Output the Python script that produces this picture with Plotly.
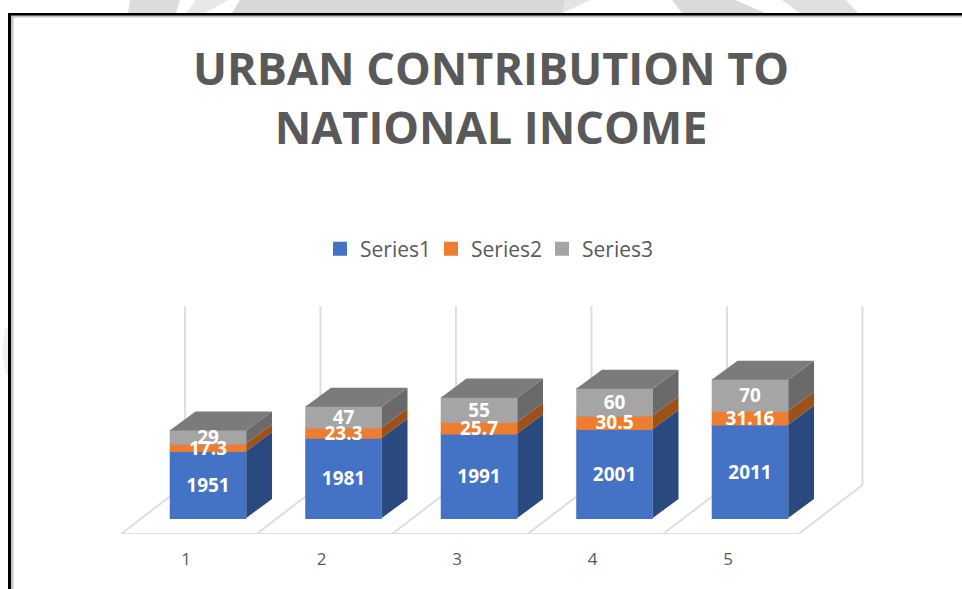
import plotly.graph_objects as go

# ---- data ----
categories = [1, 2, 3, 4, 5]
series1 = [1951, 1981, 1991, 2001, 2011]
series2 = [17.3, 23.3, 25.7, 30.5, 31.16]
series3 = [29, 47, 55, 60, 70]
series_names = ["Series1", "Series2", "Series3"]
title_text = "URBAN CONTRIBUTION TO<br>NATIONAL INCOME"

# ---- styling / projection of the 3-D look ----
W, H = 962, 589
FLOOR_PX = 534
AXIS_BASE = 1800
UNIT_X = 135.5          # px per category
UNIT_Y = 0.443          # px per value unit
BASE_PX = 518
X1_PX = 208
BAR_W = 0.55
DX, DY = 0.19, 43       # bar depth, in axis units
FLOOR_DX, FLOOR_DY = 0.472, 110.6
GRID_TOP = 2278
LABEL_DROP = 2.5 / UNIT_Y
FRONT = ["#4472c4", "#ed7d31", "#a5a5a5"]
SIDE = ["#2a4a7f", "#9c5119", "#6a6a6a"]
TOP = "#7b7b7b"
GRID = "#dedede"
TEXT = "#595959"
FONT = "Open Sans"

x_min = 1 - X1_PX / UNIT_X
x_max = x_min + W / UNIT_X
y_min = AXIS_BASE - (FLOOR_PX - BASE_PX) / UNIT_Y
y_max = AXIS_BASE + BASE_PX / UNIT_Y

s1_h = [v - AXIS_BASE for v in series1]
top1 = list(series1)
top2 = [a + b for a, b in zip(top1, series2)]
top3 = [a + b for a, b in zip(top2, series3)]
bottoms = [[AXIS_BASE] * 5, top1, top2]
heights = [s1_h, series2, series3]
labels = [series1, series2, series3]
tops = [top1, top2, top3]

fig = go.Figure()
for i in range(3):
    fig.add_trace(go.Bar(
        x=categories, y=heights[i], base=bottoms[i], width=BAR_W,
        name=series_names[i], marker=dict(color=FRONT[i], line=dict(width=2, color=FRONT[i])),
        hoverinfo="skip", cliponaxis=False,
    ))

half = BAR_W / 2 + 1 / UNIT_X
# right-hand faces of each stack segment
for i in range(3):
    xs, ys = [], []
    for c, b, t in zip(categories, bottoms[i], tops[i]):
        r = c + half
        xs += [r, r + DX, r + DX, r, r, None]
        ys += [b, b + DY, t + DY, t, b, None]
    fig.add_trace(go.Scatter(x=xs, y=ys, mode="lines", fill="toself", fillcolor=SIDE[i],
                             line=dict(width=0, color=SIDE[i]), showlegend=False, hoverinfo="skip"))
# top faces
xs, ys = [], []
for c, t in zip(categories, top3):
    l, r = c - half, c + half
    xs += [l, r, r + DX, l + DX, l, None]
    ys += [t, t, t + DY, t + DY, t, None]
fig.add_trace(go.Scatter(x=xs, y=ys, mode="lines", fill="toself", fillcolor=TOP,
                         line=dict(width=0, color=TOP), showlegend=False, hoverinfo="skip"))

# data labels above every bar segment (gray first, so orange and blue labels sit on top)
for i in [2, 1, 0]:
    fig.add_trace(go.Scatter(
        x=categories, y=[(b + t) / 2 - LABEL_DROP for b, t in zip(bottoms[i], tops[i])],
        mode="text", text=[str(v) for v in labels[i]], textposition="middle center",
        textfont=dict(family=FONT, size=19, color="white", weight=700),
        showlegend=False, hoverinfo="skip", cliponaxis=False,
    ))

shapes = []
edges = [c - 0.642 for c in categories] + [categories[-1] + 0.358]
grid_line = dict(color=GRID, width=2)
shapes.append(dict(type="line", xref="x", yref="y", layer="below", x0=edges[0], x1=edges[-1],
                   y0=y_min, y1=y_min, line=grid_line))
for e in edges:
    shapes.append(dict(type="line", xref="x", yref="y", layer="below", x0=e, x1=e + FLOOR_DX,
                       y0=y_min, y1=y_min + FLOOR_DY, line=grid_line))
    shapes.append(dict(type="line", xref="x", yref="y", layer="below", x0=e + FLOOR_DX, x1=e + FLOOR_DX,
                       y0=y_min + FLOOR_DY, y1=GRID_TOP, line=grid_line))

PLOT_H = FLOOR_PX
def px(x): return x / W
def py(y): return 1 - y / PLOT_H
def band(x0, y0, x1, y1, **kw):
    return dict(type="rect", xref="paper", yref="paper", x0=px(x0), x1=px(x1), y0=py(y0), y1=py(y1),
                line=dict(width=0), layer="above", **kw)
def poly(points, color):
    d = "M" + " L".join(f"{px(a):.5f},{py(b):.5f}" for a, b in points) + " Z"
    return dict(type="path", xref="paper", yref="paper", path=d, fillcolor=color, line=dict(width=0), layer="below")

# scanned-page leftovers around the frame
shapes += [
    poly([(130, 0), (180, 0), (176, 13), (128, 13)], "#dcdcdc"),
    poly([(196, 0), (228, 0), (205, 13), (186, 13)], "#e8e8e8"),
    poly([(240, 0), (565, 0), (563, 13), (232, 13)], "#d8d8d8"),
    poly([(565, 0), (590, 0), (563, 13)], "#e4e4e4"),
    poly([(672, 0), (735, 0), (765, 13), (682, 13)], "#dadada"),
    poly([(782, 0), (846, 0), (858, 13), (800, 13)], "#e0e0e0"),
    poly([(5, 328), (8, 328), (8, 374), (6, 374), (2, 352)], "#f0f0f0"),
]
# frame
shapes += [
    band(8, 15, W, 17.5, fillcolor="#c4c4c4"),
    band(11, 15, 13.5, H, fillcolor="#c4c4c4"),
    band(8, 13, W, 15.5, fillcolor="#000000"),
    band(8, 13, 11, H, fillcolor="#000000"),
]

fig.update_layout(
    width=W, height=H, autosize=False,
    margin=dict(l=0, r=0, t=0, b=H - FLOOR_PX, pad=0),
    paper_bgcolor="white", plot_bgcolor="white",
    barmode="overlay",
    font=dict(family=FONT, color=TEXT),
    title=dict(text=title_text, x=0.5105, xanchor="center", y=1 - 85 / H, yanchor="middle",
               font=dict(family=FONT, size=45, color=TEXT, weight=700)),
    xaxis=dict(range=[x_min, x_max], tickmode="array",
               tickvals=[c - 0.162 for c in categories], ticktext=[str(c) for c in categories],
               showgrid=False, zeroline=False, showline=False, ticks="",
               ticklabelstandoff=13, tickfont=dict(family=FONT, size=17, color=TEXT)),
    yaxis=dict(range=[y_min, y_max], visible=False),
    legend=dict(orientation="h", x=px(320), xanchor="left", y=py(249), yanchor="middle",
                entrywidthmode="pixels", entrywidth=66,
                font=dict(family=FONT, size=21, color=TEXT), bgcolor="rgba(0,0,0,0)",
                itemclick=False, itemdoubleclick=False),
    shapes=shapes,
    showlegend=True,
)
fig.write_html("out.html", config={"displayModeBar": False},
               post_script="document.body.style.margin='0';")
